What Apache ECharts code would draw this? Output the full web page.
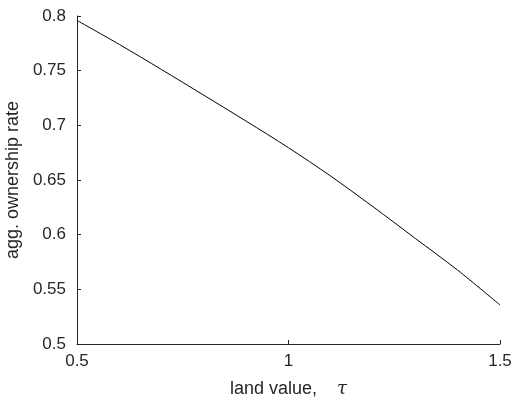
<!DOCTYPE html>
<html><head><meta charset="utf-8">
<script src="https://cdn.jsdelivr.net/npm/echarts@6/dist/echarts.min.js"></script>
<style>html,body{margin:0;padding:0;background:#fff}#c{width:517px;height:401px}</style>
</head><body><div id="c"></div>
<script>
const landValue = [0.5, 0.6, 0.7, 0.8, 0.9, 1.0, 1.1, 1.2, 1.3, 1.4, 1.5];
const ownershipRate = [0.796, 0.774, 0.751, 0.7275, 0.7038, 0.6795, 0.6535, 0.6255, 0.5965, 0.5675, 0.5357];
const xTicks = [0.5, 1, 1.5];
const yTicks = [0.5, 0.55, 0.6, 0.65, 0.7, 0.75, 0.8];

const chart = echarts.init(document.getElementById('c'), null, {renderer: 'canvas'});
const txt = '#262626';
const font = 'Liberation Sans, Arial, Helvetica, sans-serif';
chart.setOption({
  animation: false,
  grid: {left: 77, right: 17, top: 16, bottom: 57, containLabel: false, outerBoundsMode: 'none'},
  xAxis: {
    type: 'value', min: xTicks[0], max: xTicks[xTicks.length - 1], interval: 0.5,
    axisLine: {show: true, lineStyle: {color: txt, width: 1}},
    axisTick: {show: true, inside: true, length: 4, lineStyle: {color: txt}},
    splitLine: {show: false},
    axisLabel: {color: txt, fontSize: 17, fontFamily: font, margin: 9,
      formatter: v => String(v)},
    name: '{a|land value,}    {t|τ}',
    nameLocation: 'middle', nameGap: 36,
    nameTextStyle: {color: txt, fontSize: 18, fontFamily: font,
      rich: {a: {fontSize: 18, fontFamily: font, color: txt},
             t: {fontSize: 18, fontFamily: 'DejaVu Serif, serif', fontStyle: 'italic', color: txt}}}
  },
  yAxis: {
    type: 'value', min: yTicks[0], max: yTicks[yTicks.length - 1], interval: 0.05,
    axisLine: {show: true, lineStyle: {color: txt, width: 1}},
    axisTick: {show: true, inside: true, length: 4, lineStyle: {color: txt}},
    splitLine: {show: false},
    axisLabel: {color: txt, fontSize: 17, fontFamily: font, margin: 11,
      formatter: v => String(+v.toFixed(2))},
    name: 'agg. ownership rate',
    nameLocation: 'middle', nameGap: 55,
    nameTextStyle: {color: txt, fontSize: 18, fontFamily: font}
  },
  series: [{
    type: 'line', smooth: 0.3, showSymbol: false,
    data: landValue.map((x, i) => [x, ownershipRate[i]]),
    lineStyle: {color: '#000', width: 1}
  }]
});
</script></body></html>
